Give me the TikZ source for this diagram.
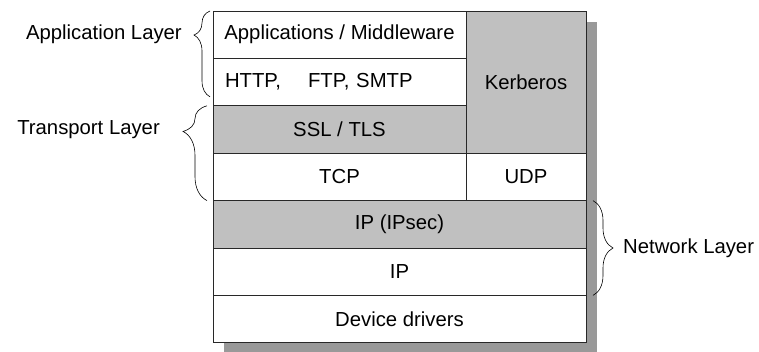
\documentclass[tikz,border=0pt]{standalone}
\usepackage{fontspec}
\setmainfont{Liberation Sans}
\usetikzlibrary{positioning}
\usetikzlibrary{backgrounds}
\usetikzlibrary{decorations.pathreplacing}

\definecolor{secgray}{RGB}{192,192,192}
\definecolor{shadegray}{RGB}{153,153,153}
\definecolor{edgegray}{RGB}{40,40,40}

\tikzset{
	layer/.style = {draw=edgegray, line width=0.9pt, fill=white, inner sep=0pt, outer sep=0pt,
		minimum width=253pt, minimum height=47.4pt, font=\fontsize{20.3}{24}\selectfont},
	full/.style = {layer, minimum width=373pt},
	side/.style = {layer, minimum width=120pt},
	sec/.style = {fill=secgray},
	tag/.style = {inner sep=0pt, font=\fontsize{20.3}{24}\selectfont},
	brace/.style = {draw, line width=0.6pt, decorate, decoration={brace}},
}

\begin{document}
\begin{tikzpicture}[x=1pt, y=-1pt]
	\useasboundingbox (0,0) rectangle (759,351);

	\node[layer, anchor = north west] (app) at (213,11) {Applications / Middleware};
	\node[layer, below = 0pt of app, align = left, text width = 229pt, inner xsep = 12pt] (http) {HTTP,\hspace{1em} FTP, SMTP};
	\node[layer, sec, below = 0pt of http] (ssl) {SSL / TLS};
	\node[layer, below = 0pt of ssl] (tcp) {TCP};
	\node[side, sec, right = 0pt of app.north east, anchor = north west, minimum height = 142.2pt] (kerb) {Kerberos};
	\node[side, below = 0pt of kerb] (udp) {UDP};
	\node[full, sec, below = 0pt of tcp.south west, anchor = north west] (ipsec) {IP (IPsec)};
	\node[full, below = 0pt of ipsec] (ip) {IP};
	\node[full, below = 0pt of ip] (drv) {Device drivers};

	\begin{scope}[on background layer]
		\fill[shadegray] ([shift={(11pt,-11pt)}]drv.south west) rectangle ([shift={(11pt,-11pt)}]kerb.north east);
	\end{scope}

	% braces
	\draw[brace, decoration={amplitude=16pt, aspect=0.72}] ([shift={(-3pt,9pt)}]http.south west) -- ([xshift=-3pt]app.north west);
	\draw[brace, decoration={amplitude=24pt, aspect=0.73}] ([xshift=-6pt]tcp.south west) -- ([xshift=-6pt]ssl.north west);
	\draw[brace, decoration={amplitude=20pt}] ([xshift=7pt]ipsec.north east) -- ([xshift=7pt]ip.south east);

	\node[tag, left = 31pt of app.west] (applayer) {Application Layer};
	\node[tag, left = 53pt of ssl.west] (translayer) {Transport Layer};
	\node[tag, right = 37pt of ipsec.south east] (netlayer) {Network Layer};
\end{tikzpicture}
\end{document}
